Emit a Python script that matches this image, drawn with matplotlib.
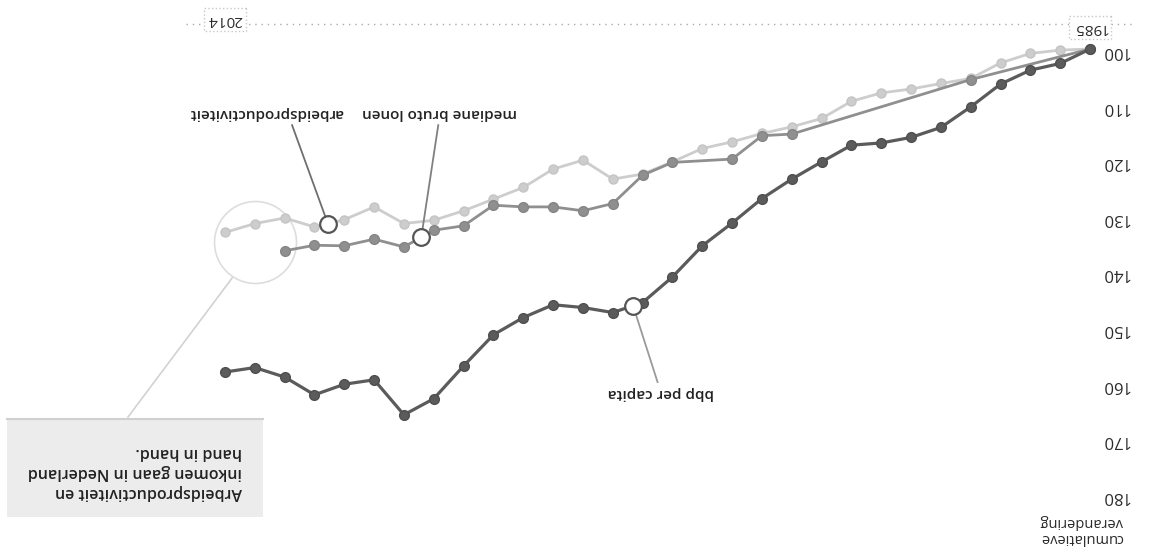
import matplotlib
matplotlib.use("Agg")
import matplotlib.pyplot as plt
from matplotlib.patches import Rectangle
import numpy as np

plt.rcParams['font.family'] = ['Open Sans', 'DejaVu Sans']

# data (index, 1985 = 100)
years = np.arange(1985, 2015)
bbp = [100, 102.6, 103.8, 106.3, 110.4, 114.1, 115.9, 116.9, 117.3, 120.3,
       123.4, 126.9, 131.3, 135.4, 141.0, 145.6, 147.4, 146.5, 146.0, 148.3,
       151.4, 157.0, 162.9, 165.8, 159.5, 160.3, 162.2, 159.0, 157.3, 158.1]
productiviteit = [100, 100.2, 100.8, 102.5, 105.3, 106.2, 107.2, 107.9, 109.4, 112.5,
                  114.0, 115.2, 116.7, 117.9, 120.3, 122.5, 123.4, 120.0, 121.6, 124.9,
                  127.0, 129.1, 130.8, 131.4, 128.4, 130.7, 132.0, 130.4, 131.4, 133.0]
lonen_years = [1985, 1989, 1995, 1996, 1997, 1999, 2000, 2001, 2002, 2003,
               2004, 2005, 2006, 2007, 2008, 2009, 2010, 2011, 2012]
lonen = [100, 105.5, 115.3, 115.6, 119.8, 120.4, 122.7, 127.8, 129.1, 128.4,
         128.4, 128.1, 131.8, 132.6, 135.6, 134.2, 135.4, 135.3, 136.3]
yticks = [100, 110, 120, 130, 140, 150, 160, 170, 180]

c_dark, c_mid, c_light = '#5b5b5b', '#8f8f8f', '#cdcdcd'

fig = plt.figure(figsize=(11.64, 5.54), dpi=100)
ax = fig.add_axes([0, 0, 1097 / 1164, 1])
ax.set_xlim(2021.54, 1984.77)
ax.set_ylim(190.83, 91.19)
for s in ax.spines.values():
    s.set_visible(False)
ax.set_xticks([])
ax.yaxis.tick_right()
ax.set_yticks(yticks)
ax.set_yticklabels([str(t) for t in yticks], rotation=180, fontsize=12, color='#2a2a2a')
ax.tick_params(axis='y', length=0, pad=3)

# series (scan is upside down, so both axes run reversed)
ax.plot(years, productiviteit, '-o', color=c_light, lw=2.0, ms=6.5,
        mec='#c4c4c4', zorder=2)
ax.plot(lonen_years, lonen, '-o', color=c_mid, lw=2.0, ms=7,
        mec='#858585', zorder=3)
ax.plot(years, bbp, '-o', color=c_dark, lw=2.3, ms=7,
        mec='#4f4f4f', zorder=4)

# top dotted line with year labels
ax.plot([2015.3, 1983.6], [95.5, 95.5], ls=(0, (1, 3.5)), color='#aaaaaa', lw=1, clip_on=False)
for yr, yv in [(years[-1], 94.7), (years[0], 96.1)]:
    ax.text(yr, yv, str(yr), rotation=180, ha='center', va='center', fontsize=11,
            color='#2a2a2a', zorder=5,
            bbox=dict(boxstyle='square,pad=0.25', fc='white', ec='#c8c8c8', lw=1, ls=':'))

# y label
ax.text(1983.9, 186.5, 'cumulatieve\nverandering', rotation=180, ha='right', va='center',
        multialignment='left', fontsize=10.5, color='#2a2a2a', linespacing=1.1, clip_on=False)

# callouts on the lines
def callout(xs, ys, at, label, tx, ty, lx, ly, lc):
    py = np.interp(at, xs, ys)
    ax.plot([lx, at], [ly, py], color=lc, lw=1.3, zorder=5)
    ax.plot([at], [py], 'o', ms=12, mfc='white', mec='#555555', mew=1.6, zorder=6)
    ax.text(tx, ty, label, rotation=180, ha='center', va='center', fontsize=11,
            color='#222222', fontweight='semibold', zorder=6)

callout(lonen_years, lonen, 2007.42, 'mediane bruto lonen', 2006.8, 111.5, 2006.85, 113.7, '#808080')
callout(years, productiviteit, 2010.55, 'arbeidsproductiviteit', 2012.6, 111.5, 2011.75, 113.7, '#6f6f6f')
callout(years, bbp, 2000.32, 'bbp per capita', 1999.4, 161.9, 1999.5, 159.9, '#9a9a9a')

# big circle + explanatory box
ax.plot([2013.0], [134.7], 'o', ms=59, mfc='none', mec='#dddddd', mew=1.2, zorder=1)
ax.plot([2013.76, 2017.25], [141.2, 166.2], color='#d2d2d2', lw=1.2, zorder=1)
ax.add_patch(Rectangle((2012.72, 166.4), 2021.3 - 2012.72, 184.2 - 166.4,
                       fc='#ececec', ec='none', zorder=1))
ax.plot([2021.3, 2012.72], [166.6, 166.6], color='#d0d0d0', lw=1.5, zorder=1)
ax.text(2013.43, 176.1, 'Arbeidsproductiviteit en\ninkomen gaan in Nederland\nhand in hand.',
        rotation=180, ha='right', va='center', multialignment='left', fontsize=11.5,
        fontweight='semibold', color='#222222', linespacing=1.35, zorder=2)

fig.savefig('out.png', dpi=100, facecolor='white')
